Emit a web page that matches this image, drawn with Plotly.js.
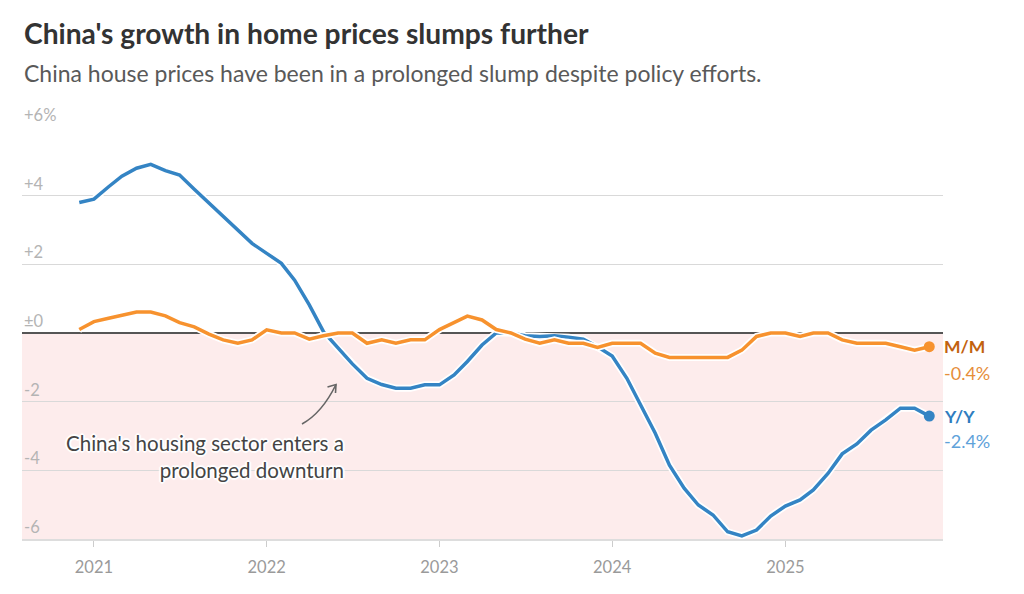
<!DOCTYPE html>
<html>
<head>
<meta charset="utf-8">
<script src="https://cdn.plot.ly/plotly-3.0.1.min.js"></script>
<style>
html,body{margin:0;padding:0;background:#fff;}
#chart{width:1024px;height:594px;}
</style>
</head>
<body>
<div id="chart"></div>
<script>
const months = [
 "2020-12-01",
 "2021-01-01","2021-02-01","2021-03-01","2021-04-01","2021-05-01","2021-06-01","2021-07-01","2021-08-01","2021-09-01","2021-10-01","2021-11-01","2021-12-01",
 "2022-01-01","2022-02-01","2022-03-01","2022-04-01","2022-05-01","2022-06-01","2022-07-01","2022-08-01","2022-09-01","2022-10-01","2022-11-01","2022-12-01",
 "2023-01-01","2023-02-01","2023-03-01","2023-04-01","2023-05-01","2023-06-01","2023-07-01","2023-08-01","2023-09-01","2023-10-01","2023-11-01","2023-12-01",
 "2024-01-01","2024-02-01","2024-03-01","2024-04-01","2024-05-01","2024-06-01","2024-07-01","2024-08-01","2024-09-01","2024-10-01","2024-11-01","2024-12-01",
 "2025-01-01","2025-02-01","2025-03-01","2025-04-01","2025-05-01","2025-06-01","2025-07-01","2025-08-01","2025-09-01","2025-10-01","2025-11-01"
];
const yoy = [
 3.80,
 3.90, 4.26, 4.57, 4.80, 4.91, 4.73, 4.60, 4.19, 3.78, 3.39, 3.00, 2.61,
 2.32, 2.03, 1.54, 0.82, 0.04, -0.45, -0.90, -1.32, -1.50, -1.61, -1.61, -1.51,
 -1.51, -1.22, -0.83, -0.35, 0.00, 0.00, -0.08, -0.10, -0.08, -0.12, -0.18, -0.40,
 -0.67, -1.32, -2.10, -2.92, -3.85, -4.52, -5.01, -5.30, -5.79, -5.91, -5.74, -5.33,
 -5.04, -4.86, -4.57, -4.09, -3.52, -3.23, -2.83, -2.53, -2.19, -2.19, -2.42
];
const mom = [
 0.10,
 0.33, 0.43, 0.52, 0.61, 0.61, 0.50, 0.30, 0.18, -0.03, -0.20, -0.30, -0.20,
 0.09, 0.00, 0.00, -0.18, -0.08, 0.00, 0.00, -0.30, -0.20, -0.30, -0.20, -0.20,
 0.10, 0.30, 0.49, 0.38, 0.10, 0.00, -0.18, -0.30, -0.20, -0.30, -0.30, -0.42,
 -0.30, -0.30, -0.30, -0.59, -0.71, -0.71, -0.71, -0.71, -0.71, -0.50, -0.10, 0.00,
 0.00, -0.10, 0.00, 0.00, -0.20, -0.30, -0.30, -0.30, -0.40, -0.50, -0.40
];
const yTickVals = [6, 4, 2, 0, -2, -4, -6];
const yTickText = ["+6%", "+4", "+2", "\u00b10", "-2", "-4", "-6"];
const xTickVals = ["2021-01-01","2022-01-01","2023-01-01","2024-01-01","2025-01-01"];
const xTickText = ["2021","2022","2023","2024","2025"];
const seriesNames = ["M/M", "Y/Y"];
const lastLabels = ["-0.4%", "-2.4%"];

const FONT = "Lato, 'Noto Sans', sans-serif";
const BLUE = "#3484c4", ORANGE = "#f7922e";
const n = months.length - 1;

const traces = [
  {x: months, y: yoy, mode: "lines", line: {color: "#ffffff", width: 7}, hoverinfo: "skip", showlegend: false},
  {x: months, y: yoy, mode: "lines", line: {color: BLUE, width: 3.5}, name: "Y/Y", showlegend: false},
  {x: months, y: mom, mode: "lines", line: {color: "#ffffff", width: 7}, hoverinfo: "skip", showlegend: false},
  {x: months, y: mom, mode: "lines", line: {color: ORANGE, width: 3.5}, name: "M/M", showlegend: false},
  {x: [months[n], months[n]], y: [mom[n], yoy[n]], mode: "markers",
   marker: {color: [ORANGE, BLUE], size: 11}, showlegend: false, hoverinfo: "skip"}
];

const annotations = [];
annotations.push({xref: "paper", yref: "paper", x: 0, y: (539-33)/412, xanchor: "left", yanchor: "middle",
  text: "<b>China's growth in home prices slumps further</b>", showarrow: false,
  font: {family: FONT, size: 28.2, color: "#333333"}});
annotations.push({xref: "paper", yref: "paper", x: 0, y: (539-73)/412, xanchor: "left", yanchor: "middle",
  text: "China house prices have been in a prolonged slump despite policy efforts.", showarrow: false,
  font: {family: FONT, size: 23, color: "#595959"}});
yTickVals.forEach((v, i) => {
  annotations.push({xref: "paper", yref: "y", x: 0, y: v, xanchor: "left", yanchor: "bottom", yshift: 0,
    text: yTickText[i], showarrow: false, font: {family: FONT, size: 16.5, color: "#b4b4b4"}});
});
annotations.push({xref: "x", yref: "y", x: months[n], y: mom[n], xanchor: "left", yanchor: "middle", xshift: 13, yshift: 0,
  text: "<b>" + seriesNames[0] + "</b>", showarrow: false, font: {family: FONT, size: 17.5, color: "#c2620e"}});
annotations.push({xref: "x", yref: "y", x: months[n], y: mom[n], xanchor: "left", yanchor: "middle", xshift: 13, yshift: -26,
  text: lastLabels[0], showarrow: false, font: {family: FONT, size: 18, color: "#e68e3a"}});
annotations.push({xref: "x", yref: "y", x: months[n], y: yoy[n], xanchor: "left", yanchor: "middle", xshift: 13, yshift: 0,
  text: "<b>" + seriesNames[1] + "</b>", showarrow: false, font: {family: FONT, size: 17.5, color: "#2f7dbf"}});
annotations.push({xref: "x", yref: "y", x: months[n], y: yoy[n], xanchor: "left", yanchor: "middle", xshift: 13, yshift: -25,
  text: lastLabels[1], showarrow: false, font: {family: FONT, size: 18, color: "#5ea2da"}});
annotations.push({xref: "x", yref: "y", x: "2022-06-17", y: -3.6, xanchor: "right", yanchor: "middle", align: "right",
  text: "China's housing sector enters a<br>prolonged downturn", showarrow: false,
  font: {family: FONT, size: 20.5, color: "#444444",
    shadow: "2px 0 1px #fff, -2px 0 1px #fff, 0 2px 1px #fff, 0 -2px 1px #fff, 1px 1px 1px #fff, -1px -1px 1px #fff, 1px -1px 1px #fff, -1px 1px 1px #fff"}});

const px = v => (v - 22) / 921;
const py = v => (539 - v) / 412;
const shapes = [
  {type: "rect", xref: "paper", yref: "y", x0: 0, x1: 1, y0: -6, y1: 0, fillcolor: "#fdecec", line: {width: 0}, layer: "below"},
  {type: "path", xref: "paper", yref: "paper",
   path: `M${px(302)},${py(424)} Q${px(322)},${py(413)} ${px(336)},${py(384.5)}`,
   line: {color: "#666666", width: 1.6}},
  {type: "path", xref: "paper", yref: "paper",
   path: `M${px(327.5)},${py(387)} L${px(336)},${py(384.5)} L${px(335.5)},${py(393)}`,
   line: {color: "#666666", width: 1.6}}
];

const layout = {
  width: 1024, height: 594,
  margin: {l: 22, r: 81, t: 127, b: 55, pad: 0},
  paper_bgcolor: "#ffffff", plot_bgcolor: "rgba(0,0,0,0)",
  showlegend: false,
  xaxis: {type: "date", range: ["2020-08-02", "2025-11-30"], tickvals: xTickVals, ticktext: xTickText,
    ticks: "outside", ticklen: 6, tickcolor: "#cccccc", tickwidth: 1, showgrid: false, zeroline: false,
    showline: true, linecolor: "#dddddd", linewidth: 2, ticklabelstandoff: 6,
    tickfont: {family: FONT, size: 16.5, color: "#9a9a9a"}, fixedrange: true},
  yaxis: {range: [-6, 6], tickvals: yTickVals, showticklabels: false, showgrid: true, gridcolor: "#d9d9d9", gridwidth: 1,
    zeroline: true, zerolinecolor: "#555555", zerolinewidth: 1.3, showline: false, fixedrange: true},
  annotations: annotations,
  shapes: shapes,
  font: {family: FONT}
};
Plotly.newPlot("chart", traces, layout, {displayModeBar: false, staticPlot: true});
</script>
</body>
</html>
